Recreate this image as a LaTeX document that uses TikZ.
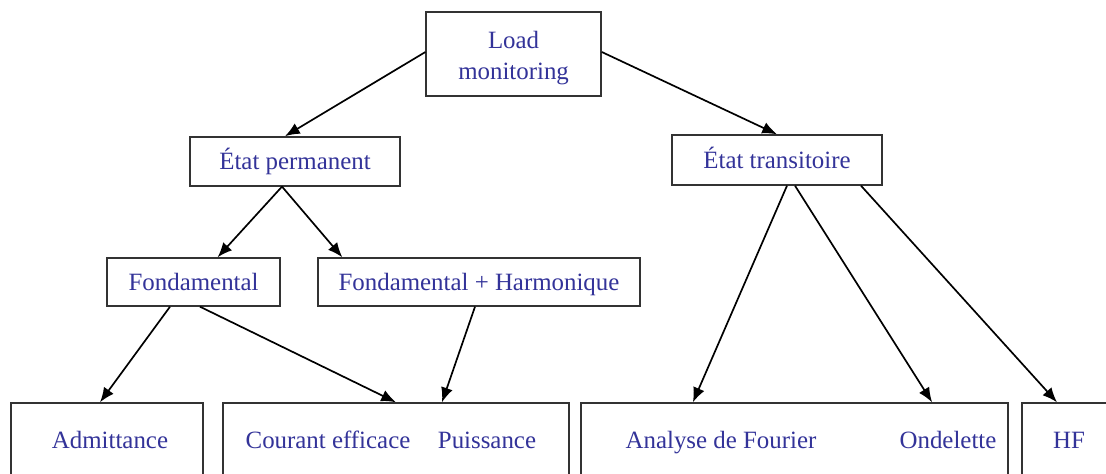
\documentclass[tikz,border=0pt]{standalone}
\usepackage{fontspec}
\setmainfont{Liberation Serif}
\usetikzlibrary{arrows.meta}
\definecolor{txtblue}{RGB}{51,51,153}

\begin{document}
\begin{tikzpicture}[line width=1pt,
    box/.style={draw=black!80,fill=white,inner sep=0pt,text=txtblue,align=center,
      font=\fontsize{17.7}{22}\selectfont},
    lbl/.style={text=txtblue,inner sep=0pt,text height=15pt,text depth=3pt,
      font=\fontsize{17.7}{22}\selectfont},
    arr/.style={-{Latex[length=10.5pt,width=8.5pt]},line width=1.2pt}]
      \useasboundingbox (0,0) rectangle (27.65,11.825);
      \clip (0,0) rectangle (27.65,11.825);

      % top
      \node[box,minimum width=4.375cm,minimum height=2.1cm] (lm) at (12.84,10.475) {};
      \node[lbl,align=center,text height=,text depth=] (lml) at (12.84,10.37) {Load\\monitoring};
      \node[box,minimum width=5.25cm,minimum height=1.225cm] (ep) at (7.375,7.79) {};
      \node[lbl] (epl) at (ep) {État permanent};
      \node[box,minimum width=5.25cm,minimum height=1.25cm] (et) at (19.425,7.825) {};
      \node[lbl] (etl) at (et) {État transitoire};
      \node[box,minimum width=4.325cm,minimum height=1.2cm] (fo) at (4.84,4.775) {};
      \node[lbl] (fol) at (fo) {Fondamental};
      \node[box,minimum width=8.05cm,minimum height=1.2cm] (fh) at (11.975,4.775) {};
      \node[lbl] (fhl) at (fh) {Fondamental + Harmonique};

      % bottom row (cut off by the page)
      \node[box,minimum width=4.8cm,minimum height=2.75cm] (ad) at (2.675,0.375) {};
      \node[box,minimum width=8.65cm,minimum height=2.75cm] (ce) at (9.9,0.375) {};
      \node[box,minimum width=10.675cm,minimum height=2.75cm] (af) at (19.8625,0.375) {};
      \node[box,minimum width=2.35cm,minimum height=2.75cm] (hf) at (26.725,0.375) {};
      \node[lbl] (adl) at (2.75,0.825) {Admittance};
      \node[lbl] (cel) at (8.2,0.825) {Courant efficace};
      \node[lbl] (pul) at (12.175,0.825) {Puissance};
      \node[lbl] (afl) at (18.025,0.825) {Analyse de Fourier};
      \node[lbl] (onl) at (23.7,0.825) {Ondelette};
      \node[lbl] (hfl) at (26.725,0.825) {HF};

      \draw[arr] ([yshift=0.05cm]lm.west) -- ([xshift=-0.25cm]ep.north);
      \draw[arr] ([yshift=0.05cm]lm.east) -- (et.north);
      \draw[arr] ([xshift=-0.325cm]ep.south) -- ([xshift=0.6cm]fo.north);
      \draw[arr] ([xshift=-0.325cm]ep.south) -- ([xshift=0.625cm]fh.north west);
      \draw[arr] ([xshift=-0.59cm]fo.south) -- ([xshift=-0.175cm]ad.north);
      \draw[arr] ([xshift=0.16cm]fo.south) -- (ce.north);
      \draw[arr] ([xshift=-0.1cm]fh.south) -- ([xshift=1.15cm]ce.north);
      \draw[arr] ([xshift=0.25cm]et.south) -- ([xshift=-2.54cm]af.north);
      \draw[arr] ([xshift=0.45cm]et.south) -- ([xshift=3.44cm]af.north);
      \draw[arr] ([xshift=2.1cm]et.south) -- ([xshift=-0.3cm]hf.north);
    \end{tikzpicture}
\end{document}
